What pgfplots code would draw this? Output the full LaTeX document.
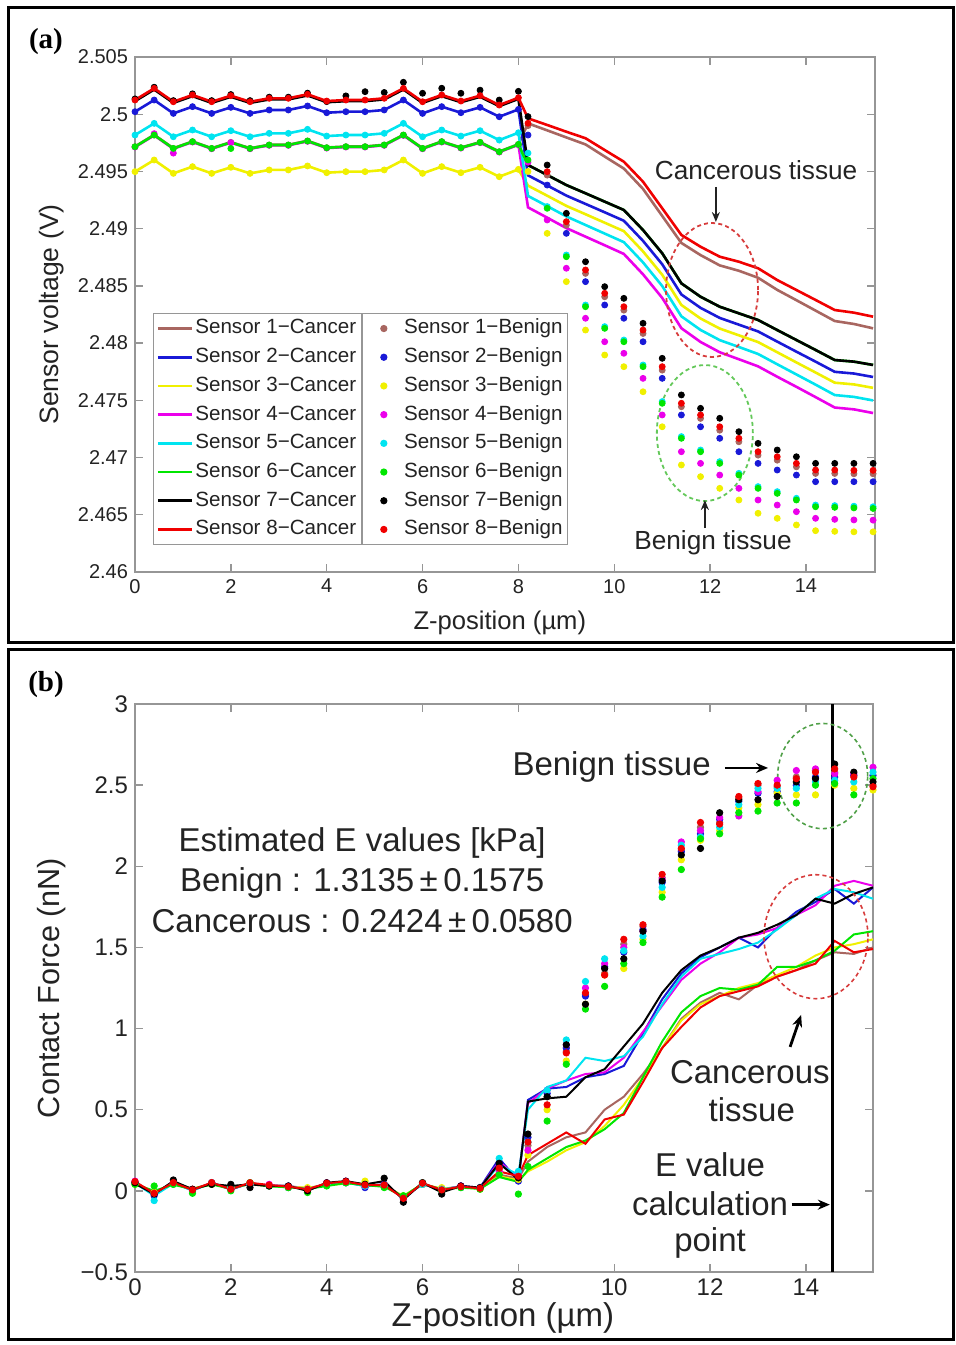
\documentclass[border=0pt]{standalone}
\usepackage{fontspec}
\setmainfont{Liberation Sans}
\newfontfamily\serifbf{Liberation Serif}
\usepackage{pgfplots}
\usepackage{pgfplotstable}
\pgfplotsset{compat=1.18}
\usetikzlibrary{arrows.meta}

\definecolor{cBrown}{RGB}{168,102,96}
\definecolor{cBlue}{RGB}{25,25,215}
\definecolor{cYellow}{RGB}{240,240,0}
\definecolor{cMagenta}{RGB}{235,0,235}
\definecolor{cCyan}{RGB}{0,228,240}
\definecolor{cGreen}{RGB}{0,230,0}
\definecolor{cBlack}{RGB}{0,0,0}
\definecolor{cRed}{RGB}{240,0,0}
\definecolor{axgray}{RGB}{150,150,150}
\definecolor{txt}{RGB}{35,35,35}
\definecolor{ellred}{RGB}{215,60,60}
\definecolor{ellgreen}{RGB}{100,200,90}

% Panel (a): columns s1..s8 = sensors 1..8
\pgfplotstableread{
x s1 s2 s3 s4 s5 s6 s7 s8
0.0 2.49718 2.50022 2.49498 2.49713 2.49818 2.49716 2.50114 2.50124
0.4 2.49820 2.50124 2.49600 2.49815 2.49920 2.49818 2.50216 2.50226
0.8 2.49703 2.50007 2.49483 2.49698 2.49803 2.49701 2.50099 2.50109
1.2 2.49762 2.50066 2.49542 2.49757 2.49862 2.49760 2.50158 2.50168
1.6 2.49703 2.50007 2.49483 2.49698 2.49803 2.49701 2.50099 2.50109
2.0 2.49756 2.50060 2.49536 2.49751 2.49856 2.49754 2.50152 2.50162
2.4 2.49703 2.50007 2.49483 2.49698 2.49803 2.49701 2.50099 2.50109
2.8 2.49733 2.50037 2.49513 2.49728 2.49833 2.49731 2.50129 2.50139
3.2 2.49733 2.50037 2.49513 2.49728 2.49833 2.49731 2.50129 2.50139
3.6 2.49768 2.50072 2.49548 2.49763 2.49868 2.49766 2.50164 2.50174
4.0 2.49709 2.50013 2.49489 2.49704 2.49809 2.49707 2.50105 2.50115
4.4 2.49718 2.50022 2.49498 2.49713 2.49818 2.49716 2.50114 2.50124
4.8 2.49718 2.50022 2.49498 2.49713 2.49818 2.49716 2.50114 2.50124
5.2 2.49733 2.50037 2.49513 2.49728 2.49833 2.49731 2.50129 2.50139
5.6 2.49820 2.50124 2.49600 2.49815 2.49920 2.49818 2.50216 2.50226
6.0 2.49703 2.50007 2.49483 2.49698 2.49803 2.49701 2.50099 2.50109
6.4 2.49762 2.50066 2.49542 2.49757 2.49862 2.49760 2.50158 2.50168
6.8 2.49709 2.50013 2.49489 2.49704 2.49809 2.49707 2.50105 2.50115
7.2 2.49756 2.50060 2.49536 2.49751 2.49856 2.49754 2.50152 2.50162
7.6 2.49674 2.49978 2.49454 2.49669 2.49774 2.49672 2.50070 2.50080
8.0 2.49738 2.50042 2.49518 2.49733 2.49838 2.49736 2.50134 2.50144
8.2 2.49920 2.49466 2.49376 2.49186 2.49286 2.49556 2.49556 2.49964
8.6 2.49859 2.49378 2.49288 2.49096 2.49197 2.49469 2.49469 2.49906
9.0 2.49797 2.49289 2.49199 2.49005 2.49107 2.49381 2.49381 2.49847
9.4 2.49736 2.49216 2.49126 2.48930 2.49032 2.49309 2.49309 2.49790
9.8 2.49630 2.49143 2.49052 2.48855 2.48957 2.49236 2.49236 2.49687
10.2 2.49525 2.49069 2.48978 2.48779 2.48882 2.49163 2.49163 2.49585
10.6 2.49347 2.48893 2.48801 2.48601 2.48705 2.48988 2.48988 2.49410
11.0 2.49111 2.48689 2.48597 2.48395 2.48499 2.48785 2.48785 2.49178
11.4 2.48875 2.48425 2.48333 2.48130 2.48234 2.48522 2.48522 2.48945
11.8 2.48769 2.48308 2.48215 2.48010 2.48115 2.48405 2.48405 2.48842
12.2 2.48679 2.48220 2.48127 2.47920 2.48026 2.48318 2.48318 2.48755
12.6 2.48632 2.48161 2.48068 2.47859 2.47966 2.48260 2.48260 2.48711
13.0 2.48571 2.48102 2.48009 2.47797 2.47905 2.48202 2.48202 2.48654
13.4 2.48465 2.48013 2.47920 2.47706 2.47815 2.48114 2.48114 2.48551
13.8 2.48375 2.47925 2.47831 2.47618 2.47726 2.48027 2.48027 2.48464
14.2 2.48284 2.47838 2.47743 2.47528 2.47637 2.47940 2.47940 2.48377
14.6 2.48193 2.47749 2.47654 2.47437 2.47546 2.47852 2.47852 2.48289
15.0 2.48167 2.47734 2.47639 2.47421 2.47530 2.47838 2.47838 2.48266
15.4 2.48129 2.47704 2.47609 2.47389 2.47499 2.47809 2.47809 2.48231
}\aCancer

\pgfplotstableread{
x s1 s2 s3 s4 s5 s6 s7 s8
0.0 2.49716 2.50022 2.49498 2.49713 2.49818 2.49716 2.50134 2.50124
0.4 2.49818 2.50124 2.49600 2.49830 2.49920 2.49818 2.50236 2.50226
0.8 2.49701 2.50007 2.49483 2.49660 2.49803 2.49701 2.50119 2.50109
1.2 2.49760 2.50066 2.49542 2.49757 2.49862 2.49760 2.50178 2.50168
1.6 2.49701 2.50007 2.49483 2.49698 2.49803 2.49701 2.50119 2.50109
2.0 2.49754 2.50060 2.49536 2.49751 2.49856 2.49700 2.50172 2.50162
2.4 2.49701 2.50007 2.49483 2.49698 2.49803 2.49701 2.50119 2.50109
2.8 2.49731 2.50037 2.49513 2.49728 2.49833 2.49731 2.50149 2.50139
3.2 2.49731 2.50037 2.49513 2.49728 2.49833 2.49731 2.50149 2.50139
3.6 2.49766 2.50072 2.49548 2.49763 2.49868 2.49766 2.50184 2.50174
4.0 2.49707 2.50013 2.49489 2.49704 2.49809 2.49707 2.50110 2.50115
4.4 2.49716 2.50022 2.49498 2.49713 2.49818 2.49716 2.50160 2.50124
4.8 2.49716 2.50022 2.49498 2.49713 2.49818 2.49716 2.50197 2.50124
5.2 2.49731 2.50037 2.49513 2.49728 2.49833 2.49731 2.50190 2.50139
5.6 2.49818 2.50124 2.49600 2.49815 2.49920 2.49818 2.50279 2.50226
6.0 2.49701 2.50007 2.49483 2.49698 2.49803 2.49701 2.50183 2.50109
6.4 2.49760 2.50066 2.49542 2.49757 2.49862 2.49760 2.50227 2.50168
6.8 2.49707 2.50013 2.49489 2.49704 2.49809 2.49707 2.50183 2.50115
7.2 2.49754 2.50060 2.49536 2.49751 2.49856 2.49754 2.50210 2.50162
7.6 2.49672 2.49978 2.49454 2.49669 2.49774 2.49672 2.50124 2.50080
8.0 2.49736 2.50042 2.49518 2.49733 2.49838 2.49736 2.50200 2.50144
8.2 2.49900 2.49818 2.49500 2.49580 2.49660 2.49600 2.49979 2.49921
8.6 2.49468 2.49381 2.48959 2.49076 2.49193 2.49178 2.49556 2.49498
9.0 2.49031 2.48959 2.48537 2.48654 2.48770 2.48755 2.49134 2.49061
9.4 2.48609 2.48537 2.48114 2.48217 2.48333 2.48318 2.48711 2.48639
9.8 2.48405 2.48333 2.47896 2.48012 2.48144 2.48129 2.48493 2.48435
10.2 2.48288 2.48217 2.47794 2.47911 2.48027 2.48012 2.48391 2.48318
10.6 2.48084 2.48012 2.47575 2.47692 2.47809 2.47794 2.48173 2.48114
11.0 2.47764 2.47692 2.47269 2.47372 2.47489 2.47474 2.47867 2.47794
11.4 2.47444 2.47372 2.46935 2.47051 2.47183 2.47168 2.47547 2.47474
11.8 2.47342 2.47269 2.46833 2.46949 2.47066 2.47051 2.47430 2.47372
12.2 2.47239 2.47168 2.46731 2.46847 2.46964 2.46949 2.47343 2.47269
12.6 2.47138 2.47051 2.46629 2.46731 2.46862 2.46847 2.47226 2.47168
13.0 2.47021 2.46949 2.46513 2.46629 2.46746 2.46731 2.47124 2.47051
13.4 2.46977 2.46891 2.46469 2.46585 2.46702 2.46687 2.47066 2.47007
13.8 2.46919 2.46847 2.46411 2.46527 2.46644 2.46629 2.47007 2.46949
14.2 2.46861 2.46789 2.46361 2.46469 2.46585 2.46570 2.46949 2.46891
14.6 2.46861 2.46789 2.46355 2.46460 2.46580 2.46565 2.46949 2.46891
15.0 2.46858 2.46789 2.46351 2.46455 2.46575 2.46560 2.46949 2.46888
15.4 2.46858 2.46789 2.46351 2.46453 2.46570 2.46555 2.46949 2.46888
}\aBenign

% Panel (b)
\pgfplotstableread{
x s1 s2 s3 s4 s5 s6 s7 s8
0.0 0.050 0.050 0.045 0.055 0.048 0.040 0.045 0.057
0.4 -0.010 -0.025 -0.005 -0.020 -0.030 0.000 -0.020 -0.015
0.8 0.045 0.050 0.040 0.048 0.045 0.038 0.060 0.051
1.2 0.012 0.002 0.015 0.005 0.004 0.010 0.010 0.006
1.6 0.046 0.050 0.040 0.048 0.046 0.040 0.042 0.051
2.0 0.015 0.008 0.020 0.010 0.012 0.012 0.030 0.010
2.4 0.044 0.048 0.040 0.046 0.044 0.045 0.040 0.050
2.8 0.032 0.030 0.030 0.034 0.030 0.028 0.030 0.036
3.2 0.030 0.030 0.025 0.028 0.025 0.022 0.030 0.026
3.6 0.015 0.008 0.020 0.010 0.012 0.012 0.000 0.010
4.0 0.040 0.042 0.035 0.045 0.040 0.030 0.050 0.047
4.4 0.050 0.052 0.045 0.055 0.050 0.048 0.060 0.057
4.8 0.040 0.030 0.045 0.032 0.030 0.035 0.040 0.036
5.2 0.032 0.040 0.030 0.038 0.034 0.025 0.060 0.036
5.6 -0.040 -0.040 -0.030 -0.045 -0.038 -0.035 -0.055 -0.046
6.0 0.042 0.042 0.040 0.046 0.040 0.045 0.050 0.047
6.4 0.010 0.005 0.015 0.006 0.010 0.008 -0.010 0.006
6.8 0.028 0.030 0.022 0.028 0.026 0.020 0.030 0.026
7.2 0.018 0.020 0.015 0.018 0.020 0.012 0.020 0.016
7.6 0.100 0.200 0.090 0.180 0.160 0.085 0.170 0.120
8.0 0.075 0.060 0.065 0.080 0.100 0.055 0.070 0.090
8.2 0.18 0.56 0.12 0.54 0.50 0.13 0.55 0.22
8.6 0.27 0.63 0.18 0.63 0.64 0.20 0.57 0.29
9.0 0.33 0.64 0.25 0.68 0.68 0.27 0.58 0.36
9.4 0.36 0.70 0.30 0.72 0.82 0.31 0.70 0.29
9.8 0.50 0.72 0.40 0.73 0.80 0.38 0.75 0.44
10.2 0.58 0.77 0.53 0.82 0.83 0.48 0.89 0.47
10.6 0.72 0.97 0.70 0.98 0.95 0.70 1.03 0.67
11.0 0.88 1.18 0.88 1.14 1.15 0.92 1.22 0.88
11.4 1.06 1.34 1.05 1.30 1.32 1.10 1.36 1.01
11.8 1.16 1.44 1.15 1.40 1.43 1.20 1.45 1.13
12.2 1.22 1.50 1.20 1.47 1.46 1.25 1.50 1.20
12.6 1.18 1.56 1.25 1.56 1.49 1.24 1.56 1.23
13.0 1.27 1.50 1.28 1.58 1.53 1.27 1.59 1.26
13.4 1.32 1.62 1.33 1.62 1.61 1.38 1.64 1.32
13.8 1.36 1.72 1.38 1.70 1.70 1.38 1.70 1.36
14.2 1.42 1.78 1.45 1.76 1.80 1.42 1.80 1.40
14.6 1.47 1.86 1.50 1.88 1.86 1.48 1.77 1.54
15.0 1.46 1.77 1.52 1.91 1.84 1.58 1.83 1.47
15.4 1.50 1.87 1.55 1.88 1.80 1.60 1.87 1.49
}\bCancer

\pgfplotstableread{
x s1 s2 s3 s4 s5 s6 s7 s8
0.0 0.05 0.05 0.04 0.06 0.05 0.04 0.05 0.057
0.4 -0.01 -0.03 -0.01 -0.02 -0.06 0.03 -0.02 -0.015
0.8 0.05 0.05 0.04 0.05 0.04 0.04 0.067 0.051
1.2 0.01 0.00 0.01 0.01 0.00 -0.015 0.01 0.006
1.6 0.05 0.05 0.04 0.05 0.05 0.04 0.04 0.051
2.0 0.01 0.01 0.02 0.01 0.02 0.00 0.04 0.010
2.4 0.05 0.05 0.05 0.04 0.04 0.05 0.02 0.050
2.8 0.03 0.03 0.03 0.04 0.03 0.03 0.03 0.036
3.2 0.03 0.03 0.02 0.02 0.02 0.02 0.03 0.026
3.6 0.01 0.01 0.02 0.01 0.01 -0.01 0.00 0.010
4.0 0.04 0.04 0.04 0.05 0.04 0.03 0.05 0.047
4.4 0.05 0.05 0.05 0.06 0.05 0.05 0.06 0.057
4.8 0.04 0.02 0.06 0.03 0.03 0.04 0.04 0.036
5.2 0.04 0.04 0.03 0.03 0.03 0.02 0.078 0.036
5.6 -0.04 -0.04 -0.03 -0.05 -0.04 -0.03 -0.07 -0.046
6.0 0.04 0.04 0.04 0.05 0.04 0.05 0.05 0.047
6.4 0.01 0.00 0.02 0.01 0.01 0.00 -0.02 0.006
6.8 0.03 0.03 0.02 0.03 0.02 0.02 0.03 0.026
7.2 0.02 0.02 0.01 0.02 0.02 0.01 0.02 0.016
7.6 0.13 0.15 0.11 0.12 0.20 0.10 0.17 0.14
8.0 0.08 0.06 0.07 0.10 0.12 -0.02 0.08 0.09
8.2 0.28 0.33 0.22 0.25 0.30 0.15 0.35 0.30
8.6 0.58 0.60 0.50 0.62 0.62 0.43 0.58 0.53
9.0 0.86 0.88 0.80 0.90 0.93 0.78 0.90 0.85
9.4 1.21 1.20 1.15 1.25 1.29 1.12 1.15 1.22
9.8 1.34 1.38 1.33 1.40 1.43 1.26 1.37 1.33
10.2 1.52 1.47 1.37 1.50 1.48 1.40 1.43 1.55
10.6 1.63 1.61 1.55 1.60 1.57 1.53 1.60 1.64
11.0 1.93 1.90 1.84 1.92 1.87 1.81 1.91 1.95
11.4 2.10 2.09 2.04 2.15 2.13 1.98 2.07 2.11
11.8 2.24 2.20 2.16 2.22 2.18 2.17 2.11 2.27
12.2 2.27 2.29 2.22 2.30 2.24 2.20 2.33 2.26
12.6 2.42 2.40 2.36 2.31 2.38 2.33 2.41 2.43
13.0 2.50 2.45 2.38 2.46 2.48 2.34 2.41 2.51
13.4 2.49 2.46 2.45 2.53 2.48 2.39 2.43 2.50
13.8 2.55 2.50 2.44 2.59 2.48 2.39 2.52 2.54
14.2 2.59 2.55 2.44 2.60 2.52 2.50 2.54 2.58
14.6 2.58 2.55 2.50 2.57 2.53 2.51 2.63 2.60
15.0 2.56 2.56 2.48 2.57 2.52 2.44 2.58 2.55
15.4 2.50 2.56 2.47 2.61 2.58 2.54 2.52 2.49
}\bBenign

\pgfplotsset{
  panel/.style={
    scale only axis,
    axis line style={axgray, line width=0.7pt},
    tick style={axgray, line width=0.7pt},
    tick align=inside,
    major tick length=4pt,
    ticklabel style={text=txt},
    label style={text=txt},
    /pgf/number format/assume math mode=true,
  },
  legA/.style={
    legend cell align=left,
    legend style={draw=axgray, line width=0.6pt, text=txt,
      font=\fontsize{10.3}{12}\selectfont,
      inner sep=1.5pt, row sep=2.35pt,
      nodes={inner xsep=1pt, inner ysep=1pt, text height=7.7pt, text depth=2.3pt}},
  },
}

\begin{document}
\begin{tikzpicture}
\useasboundingbox (0,0) rectangle (477.5pt,672.5pt);
\draw[line width=1.5pt] (4pt,351pt) rectangle (476.5pt,668.5pt);
\draw[line width=1.5pt] (4pt,2.5pt) rectangle (476.5pt,347.5pt);
\node[font=\serifbf\bfseries\fontsize{14.5}{16}\selectfont] at (23pt,651.5pt) {(a)};
\node[font=\serifbf\bfseries\fontsize{14.5}{16}\selectfont] at (23pt,330pt) {(b)};

% ================= Panel (a) =================
\begin{axis}[panel, legA,
  at={(67.5pt,386.5pt)}, anchor=south west,
  width=370pt, height=257.5pt,
  xmin=0, xmax=15.44, ymin=2.46, ymax=2.505,
  xtick={0,2,4,6,8,10,12,14}, xticklabels={0,2,4,6,8,10,12,14},
  ytick={2.46,2.465,2.47,2.475,2.48,2.485,2.49,2.495,2.5,2.505},
  yticklabels={2.46,2.465,2.47,2.475,2.48,2.485,2.49,2.495,2.5,2.505},
  ticklabel style={font=\fontsize{10}{12}\selectfont},
  xlabel={Z-position (µm)}, ylabel={Sensor voltage (V)},
  xlabel style={font=\fontsize{12.8}{14}\selectfont, at={(axis description cs:0.493,-0.099)}, anchor=center},
  ylabel style={font=\fontsize{13.3}{15}\selectfont, at={(axis description cs:-0.112,0.5)}, anchor=center},
  legend style={at={(axis description cs:0.0243,0.503)}, anchor=north west},
]
\addplot[cBrown, line width=1.3pt, forget plot] table[x=x,y=s1]{\aCancer};
\addplot[cBlue, line width=1.3pt, forget plot] table[x=x,y=s2]{\aCancer};
\addplot[cYellow, line width=1.3pt, forget plot] table[x=x,y=s3]{\aCancer};
\addplot[cMagenta, line width=1.3pt, forget plot] table[x=x,y=s4]{\aCancer};
\addplot[cCyan, line width=1.3pt, forget plot] table[x=x,y=s5]{\aCancer};
\addplot[cGreen, line width=1.3pt, forget plot] table[x=x,y=s6]{\aCancer};
\addplot[cBlack, line width=1.3pt, forget plot] table[x=x,y=s7]{\aCancer};
\addplot[cRed, line width=1.3pt, forget plot] table[x=x,y=s8]{\aCancer};
\addplot[only marks, mark=*, mark size=1.5pt, cBrown, forget plot] table[x=x,y=s1]{\aBenign};
\addplot[only marks, mark=*, mark size=1.5pt, cBlue, forget plot] table[x=x,y=s2]{\aBenign};
\addplot[only marks, mark=*, mark size=1.5pt, cYellow, forget plot] table[x=x,y=s3]{\aBenign};
\addplot[only marks, mark=*, mark size=1.5pt, cMagenta, forget plot] table[x=x,y=s4]{\aBenign};
\addplot[only marks, mark=*, mark size=1.5pt, cCyan, forget plot] table[x=x,y=s5]{\aBenign};
\addplot[only marks, mark=*, mark size=1.5pt, cGreen, forget plot] table[x=x,y=s6]{\aBenign};
\addplot[only marks, mark=*, mark size=1.5pt, cBlack, forget plot] table[x=x,y=s7]{\aBenign};
\addplot[only marks, mark=*, mark size=1.5pt, cRed, forget plot] table[x=x,y=s8]{\aBenign};
\addlegendimage{cBrown, line width=1.3pt}\addlegendentry{Sensor 1−Cancer}
\addlegendimage{cBlue, line width=1.3pt}\addlegendentry{Sensor 2−Cancer}
\addlegendimage{cYellow, line width=1.3pt}\addlegendentry{Sensor 3−Cancer}
\addlegendimage{cMagenta, line width=1.3pt}\addlegendentry{Sensor 4−Cancer}
\addlegendimage{cCyan, line width=1.3pt}\addlegendentry{Sensor 5−Cancer}
\addlegendimage{cGreen, line width=1.3pt}\addlegendentry{Sensor 6−Cancer}
\addlegendimage{cBlack, line width=1.3pt}\addlegendentry{Sensor 7−Cancer}
\addlegendimage{cRed, line width=1.3pt}\addlegendentry{Sensor 8−Cancer}
% annotations
\draw[ellred, dash pattern=on 2pt off 1.6pt, line width=0.9pt] (axis cs:12.04,2.48464) ellipse [x radius=23pt, y radius=33.5pt];
\draw[ellgreen, dash pattern=on 2pt off 1.6pt, line width=0.9pt] (axis cs:11.89,2.47214) ellipse [x radius=24pt, y radius=34pt];
\node[text=txt, font=\fontsize{13.1}{15}\selectfont] at (axis cs:12.96,2.49513) {Cancerous tissue};
\draw[-{Stealth[length=5pt,width=4pt]}, line width=0.9pt, txt] (axis cs:12.12,2.49364) -- (axis cs:12.12,2.49058);
\node[text=txt, font=\fontsize{13.1}{15}\selectfont] at (axis cs:12.06,2.46253) {Benign tissue};
\draw[-{Stealth[length=5pt,width=4pt]}, line width=0.9pt, txt] (axis cs:11.89,2.46384) -- (axis cs:11.89,2.46629);
\end{axis}

% second legend (benign) for panel (a)
\begin{axis}[legA, hide axis, scale only axis,
  at={(67.5pt,386.5pt)}, anchor=south west,
  width=370pt, height=257.5pt,
  xmin=0, xmax=1, ymin=0, ymax=1,
  legend image code/.code={\path[draw=none, fill=none] (0cm,0cm) -- (0.64cm,0cm); \draw[#1] plot coordinates {(0.32cm,0cm)};},
  legend style={at={(axis description cs:0.3068,0.503)}, anchor=north west},
]
\addlegendimage{only marks, mark=*, mark size=1.5pt, cBrown}\addlegendentry{Sensor 1−Benign}
\addlegendimage{only marks, mark=*, mark size=1.5pt, cBlue}\addlegendentry{Sensor 2−Benign}
\addlegendimage{only marks, mark=*, mark size=1.5pt, cYellow}\addlegendentry{Sensor 3−Benign}
\addlegendimage{only marks, mark=*, mark size=1.5pt, cMagenta}\addlegendentry{Sensor 4−Benign}
\addlegendimage{only marks, mark=*, mark size=1.5pt, cCyan}\addlegendentry{Sensor 5−Benign}
\addlegendimage{only marks, mark=*, mark size=1.5pt, cGreen}\addlegendentry{Sensor 6−Benign}
\addlegendimage{only marks, mark=*, mark size=1.5pt, cBlack}\addlegendentry{Sensor 7−Benign}
\addlegendimage{only marks, mark=*, mark size=1.5pt, cRed}\addlegendentry{Sensor 8−Benign}
\end{axis}

% ================= Panel (b) =================
\begin{axis}[panel,
  at={(67.5pt,36.5pt)}, anchor=south west,
  width=369pt, height=284pt,
  xmin=0, xmax=15.4, ymin=-0.5, ymax=3,
  xtick={0,2,4,6,8,10,12,14}, xticklabels={0,2,4,6,8,10,12,14},
  ytick={-0.5,0,0.5,1,1.5,2,2.5,3},
  yticklabels={−0.5,0,0.5,1,1.5,2,2.5,3},
  ticklabel style={font=\fontsize{12}{14}\selectfont},
  xlabel={Z-position (µm)}, ylabel={Contact Force (nN)},
  xlabel style={font=\fontsize{16.5}{18}\selectfont, at={(axis description cs:0.4986,-0.081)}, anchor=center},
  ylabel style={font=\fontsize{15.3}{17}\selectfont, at={(axis description cs:-0.1125,0.5)}, anchor=center},
]
\addplot[cBrown, line width=1.0pt] table[x=x,y=s1]{\bCancer};
\addplot[cBlue, line width=1.0pt] table[x=x,y=s2]{\bCancer};
\addplot[cYellow, line width=1.0pt] table[x=x,y=s3]{\bCancer};
\addplot[cMagenta, line width=1.0pt] table[x=x,y=s4]{\bCancer};
\addplot[cCyan, line width=1.0pt] table[x=x,y=s5]{\bCancer};
\addplot[cGreen, line width=1.0pt] table[x=x,y=s6]{\bCancer};
\addplot[cBlack, line width=1.0pt] table[x=x,y=s7]{\bCancer};
\addplot[cRed, line width=1.0pt] table[x=x,y=s8]{\bCancer};
\addplot[only marks, mark=*, mark size=1.6pt, cBrown] table[x=x,y=s1]{\bBenign};
\addplot[only marks, mark=*, mark size=1.6pt, cBlue] table[x=x,y=s2]{\bBenign};
\addplot[only marks, mark=*, mark size=1.6pt, cYellow] table[x=x,y=s3]{\bBenign};
\addplot[only marks, mark=*, mark size=1.6pt, cMagenta] table[x=x,y=s4]{\bBenign};
\addplot[only marks, mark=*, mark size=1.6pt, cCyan] table[x=x,y=s5]{\bBenign};
\addplot[only marks, mark=*, mark size=1.6pt, cGreen] table[x=x,y=s6]{\bBenign};
\addplot[only marks, mark=*, mark size=1.6pt, cBlack] table[x=x,y=s7]{\bBenign};
\addplot[only marks, mark=*, mark size=1.6pt, cRed] table[x=x,y=s8]{\bBenign};
\draw[black, line width=1.3pt] (axis cs:14.56,-0.5) -- (axis cs:14.56,3);
\draw[ellgreen!80!black, dash pattern=on 2pt off 1.6pt, line width=0.8pt] (axis cs:14.35,2.556) ellipse [x radius=22.5pt, y radius=26.3pt];
\draw[ellred, dash pattern=on 2pt off 1.6pt, line width=0.8pt] (axis cs:14.21,1.566) ellipse [x radius=26pt, y radius=31pt];
\node[text=txt, font=\fontsize{16.5}{19}\selectfont, anchor=east] at (axis cs:12.16,2.612) {Benign tissue};
\draw[-{Stealth[length=6pt,width=5pt]}, line width=1.2pt] (axis cs:12.31,2.606) -- (axis cs:13.21,2.606);
\node[text=txt, font=\fontsize{16.5}{19}\selectfont] at (axis cs:4.74,2.144) {Estimated E values [kPa]};
\node[text=txt, font=\fontsize{16.5}{19}\selectfont] at (axis cs:4.74,1.898) {Benign : 1.3135\,±\,0.1575};
\node[text=txt, font=\fontsize{16.5}{19}\selectfont] at (axis cs:4.74,1.664) {Cancerous : 0.2424\,±\,0.0580};
\node[text=txt, font=\fontsize{16.5}{19}\selectfont] at (axis cs:12.83,0.733) {Cancerous};
\node[text=txt, font=\fontsize{16.5}{19}\selectfont] at (axis cs:12.87,0.499) {tissue};
\draw[-{Stealth[length=6pt,width=5pt]}, line width=1.4pt] (axis cs:13.67,0.887) -- (axis cs:13.90,1.084);
\node[text=txt, font=\fontsize{16.5}{19}\selectfont] at (axis cs:12.0,0.159) {E value};
\node[text=txt, font=\fontsize{16.5}{19}\selectfont] at (axis cs:12.0,-0.08) {calculation};
\draw[-{Stealth[length=6pt,width=5pt]}, line width=1.2pt] (axis cs:13.70,-0.085) -- (axis cs:14.50,-0.085);
\node[text=txt, font=\fontsize{16.5}{19}\selectfont] at (axis cs:12.0,-0.32) {point};
\end{axis}
\end{tikzpicture}
\end{document}
